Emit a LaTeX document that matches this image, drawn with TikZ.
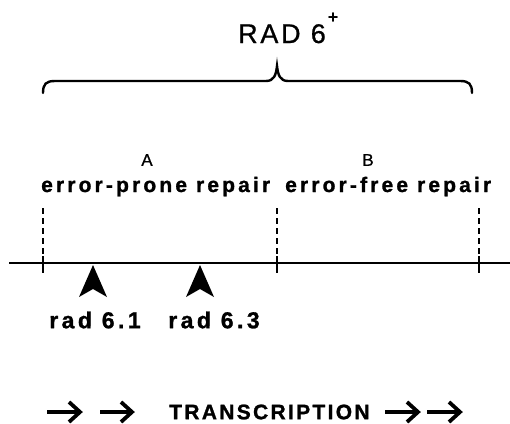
\documentclass[tikz,border=0pt]{standalone}
\usepackage{fontspec}
\setmainfont{Liberation Sans}
\newfontfamily\lbfont[LetterSpace=15,FakeBold=1.2]{Liberation Sans Bold}
\newfontfamily\rbfont[LetterSpace=15,FakeBold=1.2]{Liberation Sans Bold}
\newfontfamily\trfont[LetterSpace=11,FakeBold=1.2]{Liberation Sans Bold}
\newfontfamily\tifont[LetterSpace=10,FakeBold=0.8]{Liberation Sans}
\newfontfamily\abfont[FakeBold=0.8]{Liberation Sans}
\newcommand{\wsp}{\hspace{9pt}}
\begin{document}
\begin{tikzpicture}[x=1pt,y=-1pt,
  lbl/.style={font=\lbfont\fontsize{21}{23}\selectfont, inner sep=0pt},
  radlbl/.style={font=\rbfont\fontsize{23}{25}\selectfont, inner sep=0pt},
  trlbl/.style={font=\trfont\fontsize{21}{23}\selectfont, inner sep=0pt},
  letter/.style={font=\abfont\fontsize{17}{19}\selectfont, inner sep=0pt},
  dashln/.style={line width=1.8pt, dash pattern=on 6pt off 4pt},
  tick/.style={line width=1.8pt},
  pointer/.style={fill=black, draw=none},
  bigarrow/.style={line width=3.8pt, line join=miter}
]
\useasboundingbox (0,0) rectangle (510,423);
% title
\node[inner sep=0pt, anchor=base, font=\tifont\fontsize{27}{29}\selectfont] (title) at (282,43) {RAD 6};
\node[inner sep=0pt, font=\bfseries\fontsize{18}{18}\selectfont] (plus) at (333,18) {+};
% brace
\draw[line width=2.4pt, line cap=round] (43,93) .. controls (43,84) and (46,81) .. (55,81) -- (266,81) .. controls (274,81) and (276,75) .. (277,66) .. controls (278,75) and (280,81) .. (288,81) -- (460,81) .. controls (469,81) and (472,84) .. (472,93);
% section letters
\node[letter] (A) at (147,160) {A};
\node[letter] (B) at (368,160) {B};
\node[lbl, anchor=base west] (ep) at (41,192) {error-prone\wsp repair};
\node[lbl, anchor=base west] (ef) at (285,192) {error-free\wsp repair};
% main line
\coordinate (L0) at (9,263);
\coordinate (L1) at (510,263);
\draw[line width=1.8pt] (L0) -- (L1);
% dashed boundaries
\foreach \n/\x in {d1/43, d2/277, d3/479} {
  \coordinate (\n top) at (\x,208);
  \coordinate (\n mid) at (\x,256);
  \coordinate (\n bot) at (\x,273);
  \draw[dashln] (\n top) -- (\n mid);
  \draw[tick] (\n mid) -- (\n bot);
}
% mutation pointers
\foreach \n/\x in {p1/93, p2/200} {
  \fill[pointer] (\x,265) -- (\x+14,297) -- (\x,289) -- (\x-14,297) -- cycle;
}
\node[radlbl] (r1) at (95,320) {rad 6.1};
\node[radlbl] (r2) at (214,320) {rad 6.3};
% transcription
\node[trlbl, anchor=west] (tr) at (169,412) {TRANSCRIPTION};
\foreach \a/\b in {47/80, 100/132, 385/418, 427/460} {
  \draw[line width=3.8pt] (\a,412) -- (\b-3,412);
  \draw[bigarrow] (\b-11,402) -- (\b,412) -- (\b-11,422);
}
\end{tikzpicture}
\end{document}
